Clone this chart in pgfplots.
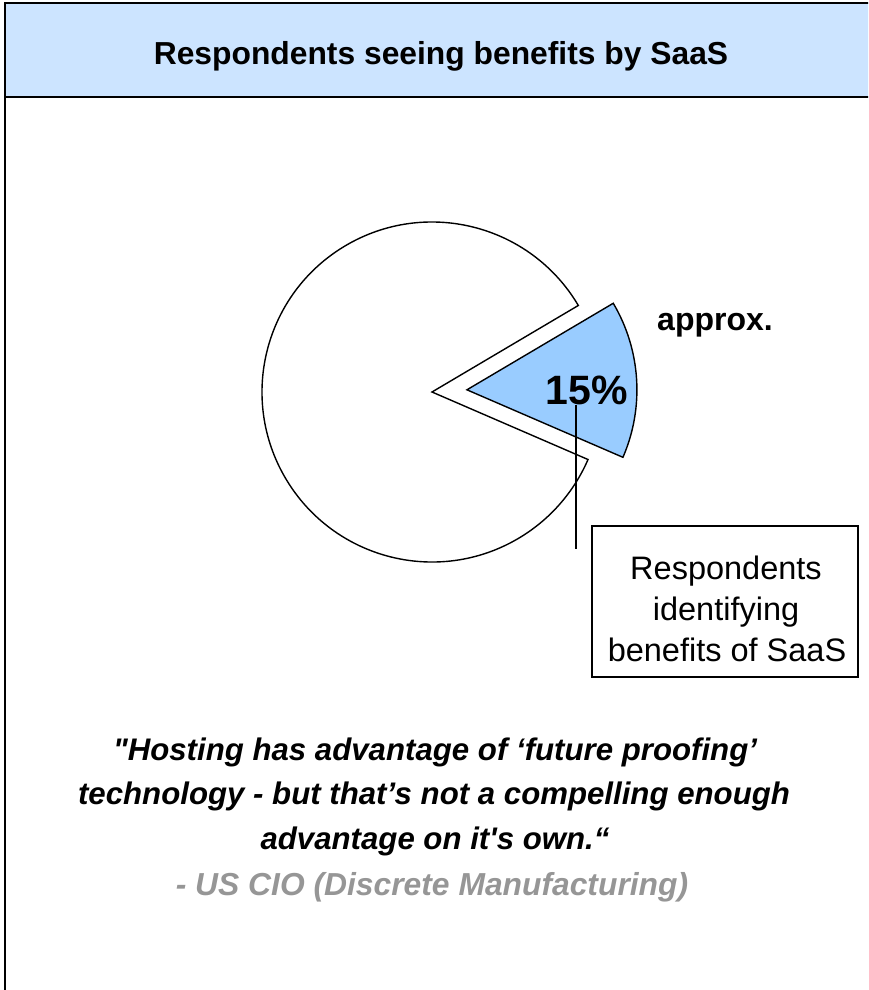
\documentclass[border=0pt]{standalone}
\usepackage{pgfplots}
\pgfplotsset{compat=1.18}
\usepackage{pgfplotstable}
\usetikzlibrary{calc}
\usepackage{fontspec}
\setmainfont{Liberation Sans}[Ligatures=TeXOff]
\definecolor{titlebg}{RGB}{204,228,255}
\definecolor{slicecol}{RGB}{153,204,255}
\definecolor{attrcol}{RGB}{150,150,150}
\pgfplotstableread{
label value
SaaS 15
Other 85
}\piedata
\begin{document}
\begin{tikzpicture}
\useasboundingbox (0,0) rectangle (868pt,990pt);
\clip (0,0) rectangle (868pt,990pt);
\pgfplotstablegetelem{0}{value}\of\piedata
\pgfmathsetmacro\vA{\pgfplotsretval}
\pgfplotstablegetelem{1}{value}\of\piedata
\pgfmathsetmacro\vB{\pgfplotsretval}
\pgfmathsetmacro\aS{-23.4}
\pgfmathsetmacro\aE{\aS+360*\vA/(\vA+\vB)}
\pgfmathsetmacro\aF{\aS+360}
\pgfmathsetmacro\aM{(\aS+\aE)/2}
\begin{axis}[at={(0,0)}, anchor=south west, width=868pt, height=990pt,
  scale only axis, xmin=0, xmax=868, ymin=0, ymax=990, y dir=reverse,
  hide axis, clip=false]
% frame and title
\fill[titlebg] (axis cs:5,3) rectangle (axis cs:875,97);
\draw[line width=1.8pt] (axis cs:5,1000) -- (axis cs:5,3) -- (axis cs:875,3);
\draw[line width=1.8pt] (axis cs:5,97) -- (axis cs:875,97);
\node[anchor=base, font=\bfseries\fontsize{31.8}{37}\selectfont] at (axis cs:441,64) {Respondents seeing benefits by SaaS};
% pie
\draw[fill=white, line width=1.4pt] (axis cs:432,392) -- ++(\aE:170pt) arc[start angle=\aE, end angle=\aF, radius=170pt] -- cycle;
\draw[fill=slicecol, line width=1.4pt] ($(axis cs:432,392)+(\aM:35pt)$) -- ++(\aS:170pt) arc[start angle=\aS, end angle=\aE, radius=170pt] -- cycle;
\node[anchor=base, font=\bfseries\fontsize{41}{48}\selectfont] at (axis cs:587,404) {15\%};
\node[anchor=base, font=\bfseries\fontsize{32}{37}\selectfont] at (axis cs:715,330) {approx.};
% leader and box
\draw[line width=1.2pt] (axis cs:576,405) -- (axis cs:576,549);
\draw[line width=1.2pt] (axis cs:592,526) rectangle (axis cs:858,677);
\node[anchor=base, font=\fontsize{32.5}{37}\selectfont] at (axis cs:726,579) {Respondents};
\node[anchor=base, font=\fontsize{32.5}{37}\selectfont] at (axis cs:726,620) {identifying};
\node[anchor=base, font=\fontsize{32.5}{37}\selectfont] at (axis cs:727,661) {benefits of SaaS};
% quote
\node[anchor=base, font=\bfseries\itshape\fontsize{31.2}{37}\selectfont] at (axis cs:435,760) {"Hosting has advantage of ‘future proofing’};
\node[anchor=base, font=\bfseries\itshape\fontsize{31.2}{37}\selectfont] at (axis cs:434,804) {technology - but that’s not a compelling enough};
\node[anchor=base, font=\bfseries\itshape\fontsize{31.2}{37}\selectfont] at (axis cs:435,849) {advantage on it's own.“};
\node[anchor=base, text=attrcol, font=\bfseries\itshape\fontsize{31.8}{37}\selectfont] at (axis cs:432,895) {- US CIO (Discrete Manufacturing)};
\end{axis}
\end{tikzpicture}
\end{document}
